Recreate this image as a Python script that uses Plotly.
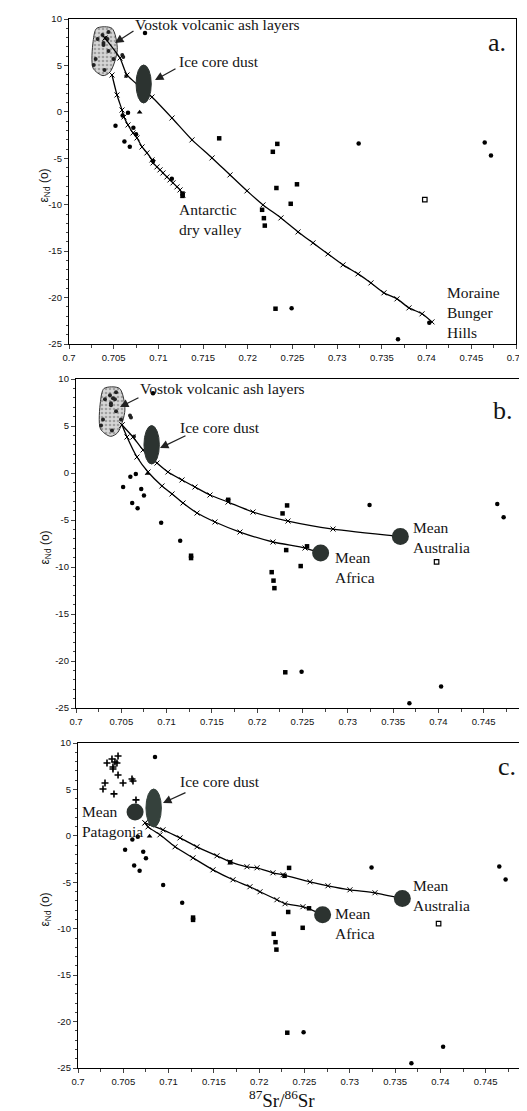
import plotly.graph_objects as go

# The page body has an 8 px margin, so the figure is drawn 8 px in from the corner.
OFF = 8
PAGE_W, PAGE_H = 527, 1111
W, H = PAGE_W - OFF, PAGE_H - OFF

# ---------------- data ----------------
tick_vals_x = [0.7, 0.705, 0.71, 0.715, 0.72, 0.725, 0.73, 0.735, 0.74, 0.745, 0.75]
tick_text_x = ["0.7", "0.705", "0.71", "0.715", "0.72", "0.725", "0.73", "0.735", "0.74", "0.745", "0.75"]
tick_vals_y = [10, 5, 0, -5, -10, -15, -20, -25]
tick_text_y = ["10", "5", "0", "-5", "-10", "-15", "-20", "-25"]

# Vostok volcanic ash samples
vostok_x = [0.7032, 0.70375, 0.70408, 0.70386, 0.70442, 0.7043, 0.70386, 0.70442,
            0.70497, 0.70596, 0.70607, 0.70298, 0.70276, 0.70397, 0.7064]
vostok_y = [7.85, 8.28, 7.96, 7.42, 8.6, 7.85, 7.2, 6.56, 5.7, 6.13, 5.91, 5.7, 5.05, 4.52, 3.87]

# potential source area samples (dots)
dot_x = [0.7085, 0.7066, 0.7060, 0.7052, 0.7072, 0.7075, 0.7062, 0.7068, 0.7094, 0.7115,
         0.7324, 0.7465, 0.7472, 0.7249, 0.7368, 0.7403]
dot_y = [8.49, -0.1, -0.4, -1.5, -1.7, -2.4, -3.2, -3.75, -5.3, -7.2,
         -3.4, -3.3, -4.7, -21.15, -24.5, -22.7]
# squares
sq_x = [0.7127, 0.7127, 0.7168, 0.7233, 0.7228, 0.7232, 0.7255, 0.7248, 0.7216, 0.7218, 0.7219, 0.7231]
sq_y = [-8.8, -9.05, -2.85, -3.45, -4.3, -8.2, -7.8, -9.9, -10.55, -11.45, -12.25, -21.2]
tri_x = [0.7079]
tri_y = [-0.05]
open_x = [0.7398]
open_y = [-9.45]

# outline of the Vostok ash field
ash_poly_x = [0.7031, 0.7048, 0.7054, 0.7046, 0.7038, 0.7027, 0.7027, 0.7031]
ash_poly_y = [9.0, 9.0, 6.7, 4.3, 3.9, 4.7, 7.6, 9.0]

# ice core dust field (ellipse bounds)
dust_x = [0.7075, 0.7092]
dust_y = [0.95, 5.05]

# panel a mixing curves
a_moraine_x = [0.70403, 0.70570, 0.70649, 0.70928, 0.71152, 0.71376, 0.71600, 0.71801, 0.71991,
               0.72170, 0.72371, 0.72562, 0.72729, 0.72897, 0.73065, 0.73233, 0.73378, 0.73523,
               0.73669, 0.73803, 0.73949, 0.74060]
a_moraine_y = [7.95, 5.80, 3.97, 1.60, -0.66, -3.02, -4.96, -6.79, -8.51, -10.02, -11.42, -12.93,
               -14.11, -15.30, -16.48, -17.45, -18.42, -19.49, -20.14, -21.11, -21.75, -22.62]
a_dry_x = [0.70481, 0.70537, 0.70593, 0.70615, 0.70660, 0.70716, 0.70761, 0.70817, 0.70872,
           0.70928, 0.70940, 0.70984, 0.71018, 0.71051, 0.71096, 0.71130, 0.71163, 0.71208,
           0.71242, 0.71275]
a_dry_y = [3.97, 1.82, 0.20, -0.55, -1.41, -2.27, -2.81, -3.78, -4.42, -5.18, -5.50, -5.93,
           -6.25, -6.58, -7.01, -7.33, -7.65, -8.08, -8.41, -8.95]

# panel b mixing curves
b_aus_x = [0.70508, 0.70629, 0.70740, 0.70894, 0.71015, 0.71170, 0.71313, 0.71479, 0.71678,
           0.71954, 0.72340, 0.72837, 0.73576]
b_aus_y = [5.11, 3.83, 2.45, 1.06, 0.11, -0.74, -1.49, -2.34, -3.09, -4.15, -5.11, -5.96, -6.75]
b_afr_x = [0.70508, 0.70563, 0.70673, 0.70795, 0.70949, 0.71060, 0.71181, 0.71336, 0.71534,
           0.71810, 0.72174, 0.72528, 0.72700]
b_afr_y = [5.11, 3.83, 1.70, 0.11, -1.38, -2.23, -3.19, -4.26, -5.21, -6.28, -7.34, -7.98, -8.5]

# panel c mixing curves
c_aus_x = [0.70740, 0.70938, 0.71126, 0.71313, 0.71534, 0.71678, 0.71865, 0.71976, 0.72152,
           0.72263, 0.72561, 0.72759, 0.73002, 0.73278, 0.73576]
c_aus_y = [1.40, 0.65, -0.22, -1.18, -2.15, -2.80, -3.33, -3.44, -3.98, -4.19, -4.95, -5.38,
           -5.81, -6.13, -6.75]
c_afr_x = [0.70740, 0.70773, 0.70905, 0.71071, 0.71269, 0.71490, 0.71711, 0.71898, 0.72009,
           0.72196, 0.72285, 0.72483, 0.72700]
c_afr_y = [1.40, 0.97, 0.11, -1.18, -2.37, -3.66, -4.73, -5.48, -6.02, -6.88, -7.31, -7.63, -8.5]

mean_names = ["Australia", "Africa", "Patagonia"]
mean_x = [0.7358, 0.7270, 0.7063]
mean_y = [-6.75, -8.5, 2.58]

# ---------------- layout helpers (page pixel -> paper fraction) ----------------
def px_x(p):
    return (p - OFF) / W

def px_y(p):
    return 1 - (p - OFF) / H

panels = {
    # name: (left px, right px, top px, bottom px, x max)   -- page pixels
    "a": (69, 516, 19, 344, 0.75),
    "b": (76, 527, 379, 708, 0.74978),
    "c": (78, 527, 743, 1068, 0.74956),
}

fig = go.Figure()
DARK = "#2c3330"
SERIF = "Liberation Serif, Times New Roman, serif"
SANS = "Liberation Sans, Arial, sans-serif"
LABEL_SIZE = 15.5

axis_ids = {"a": ("x", "y"), "b": ("x2", "y2"), "c": ("x3", "y3")}


def add_points(xr, yr, show_vostok_crosses):
    if show_vostok_crosses:
        fig.add_trace(go.Scatter(x=vostok_x, y=vostok_y, mode="markers", xaxis=xr, yaxis=yr,
                                 marker=dict(symbol="cross-thin", size=5, color="black",
                                             line=dict(width=1.6, color="black")), showlegend=False))
    fig.add_trace(go.Scatter(x=dot_x, y=dot_y, mode="markers", xaxis=xr, yaxis=yr,
                             marker=dict(symbol="circle", size=4.5, color="black"), showlegend=False))
    fig.add_trace(go.Scatter(x=sq_x, y=sq_y, mode="markers", xaxis=xr, yaxis=yr,
                             marker=dict(symbol="square", size=4.5, color="black"), showlegend=False))
    fig.add_trace(go.Scatter(x=tri_x, y=tri_y, mode="markers", xaxis=xr, yaxis=yr,
                             marker=dict(symbol="triangle-up", size=5, color="black"), showlegend=False))
    fig.add_trace(go.Scatter(x=open_x, y=open_y, mode="markers", xaxis=xr, yaxis=yr,
                             marker=dict(symbol="square-open", size=4.5, color="black",
                                         line=dict(width=1.2)), showlegend=False))


def add_ash(xr, yr):
    fig.add_trace(go.Scatter(x=ash_poly_x, y=ash_poly_y, mode="lines", fill="toself", xaxis=xr, yaxis=yr,
                             line=dict(color="#333", width=1, shape="spline", smoothing=0.8),
                             fillcolor="#cfcfcf",
                             fillpattern=dict(shape=".", bgcolor="#d6d6d6", fgcolor="#6a6a6a",
                                              size=4, solidity=0.35),
                             showlegend=False))
    fig.add_trace(go.Scatter(x=vostok_x, y=vostok_y, mode="markers", xaxis=xr, yaxis=yr,
                             marker=dict(symbol="circle", size=4, color="#222"), showlegend=False))


def add_curve(xr, yr, xs, ys):
    fig.add_trace(go.Scatter(x=xs, y=ys, mode="lines+markers", xaxis=xr, yaxis=yr,
                             line=dict(color="black", width=1.3, shape="spline", smoothing=0.6),
                             marker=dict(symbol="x-thin", size=5, color="black",
                                         line=dict(width=1, color="black")),
                             showlegend=False))


def add_means(xr, yr, idx):
    fig.add_trace(go.Scatter(x=[mean_x[i] for i in idx], y=[mean_y[i] for i in idx], mode="markers",
                             xaxis=xr, yaxis=yr, marker=dict(size=17, color=DARK), showlegend=False))


def add_dust(xr, yr, color=DARK):
    fig.add_shape(type="circle", xref=xr, yref=yr, x0=dust_x[0], x1=dust_x[1], y0=dust_y[0], y1=dust_y[1],
                  fillcolor=color, line=dict(color=color, width=1), layer="above")


# panel a
xa, ya = axis_ids["a"]
add_ash(xa, ya)
add_points(xa, ya, False)
add_curve(xa, ya, a_moraine_x, a_moraine_y)
add_curve(xa, ya, a_dry_x, a_dry_y)
add_dust(xa, ya)

# panel b
xb, yb = axis_ids["b"]
add_ash(xb, yb)
add_points(xb, yb, False)
add_curve(xb, yb, b_aus_x, b_aus_y)
add_curve(xb, yb, b_afr_x, b_afr_y)
add_means(xb, yb, [0, 1])
add_dust(xb, yb)

# panel c
xc, yc = axis_ids["c"]
add_points(xc, yc, True)
add_curve(xc, yc, c_aus_x, c_aus_y)
add_curve(xc, yc, c_afr_x, c_afr_y)
add_means(xc, yc, [0, 1])
add_dust(xc, yc, "#35413c")
add_means(xc, yc, [2])

layout = dict(width=W, height=H, margin=dict(l=0, r=0, t=0, b=0, autoexpand=False),
              paper_bgcolor="white", plot_bgcolor="white", showlegend=False,
              font=dict(family=SANS, color="black"))

for i, key in enumerate(["a", "b", "c"]):
    l, r, t, b, xmax = panels[key]
    sfx = "" if i == 0 else str(i + 1)
    layout["xaxis" + sfx] = dict(
        domain=[px_x(l), min(1.0, px_x(r))], range=[0.7, xmax], anchor="y" + sfx, automargin=False,
        tickvals=tick_vals_x, ticktext=tick_text_x, ticks="outside", ticklen=4, tickwidth=1,
        tickfont=dict(family=SANS, size=9.5, color="#111"),
        minor=dict(tickmode="linear", tick0=0.7, dtick=0.0025, ticks="outside", ticklen=3, tickwidth=1),
        showline=True, linecolor="black", linewidth=1.3, mirror=True, showgrid=False, zeroline=False)
    layout["yaxis" + sfx] = dict(
        domain=[px_y(b), px_y(t)], range=[-25, 10], anchor="x" + sfx, automargin=False,
        tickvals=tick_vals_y, ticktext=tick_text_y, ticks="outside", ticklen=4, tickwidth=1,
        tickfont=dict(family=SANS, size=9.5, color="#111"),
        minor=dict(tickmode="linear", tick0=0, dtick=1, ticks="outside", ticklen=2, tickwidth=1),
        showline=True, linecolor="black", linewidth=1.3, mirror=True, showgrid=False, zeroline=False)

fig.update_layout(**layout)

annots = []


def lab(xr, yr, x, y, text, size=LABEL_SIZE, xanchor="left", yanchor="middle", align="left"):
    annots.append(dict(xref=xr, yref=yr, x=x, y=y, text=text, showarrow=False, xanchor=xanchor,
                       yanchor=yanchor, align=align,
                       font=dict(family=SERIF, size=size, color="#141414")))


def arrow(xr, yr, hx, hy, tx, ty):
    annots.append(dict(xref=xr, yref=yr, axref=xr, ayref=yr, x=hx, y=hy, ax=tx, ay=ty, text="",
                       showarrow=True, arrowhead=2, arrowsize=1.3, arrowwidth=1.3, arrowcolor="#222"))


# panel a labels
lab(xa, ya, 0.70716, 9.46, "Vostok volcanic ash layers")
arrow(xa, ya, 0.70515, 7.42, 0.70738, 8.82)
lab(xa, ya, 0.71208, 5.37, "Ice core dust")
arrow(xa, ya, 0.70962, 3.43, 0.71208, 4.73)
lab(xa, ya, 0.7121, -11.6, "Antarctic<br>dry valley")
lab(xa, ya, 0.7421, -21.65, "Moraine<br>Bunger<br>Hills")
lab(xa, ya, 0.7491, 7.42, "a.", size=26, xanchor="right")

# panel b labels
lab(xb, yb, 0.70684, 9.04, "Vostok volcanic ash layers")
arrow(xb, yb, 0.70486, 7.02, 0.70706, 8.09)
lab(xb, yb, 0.71126, 4.89, "Ice core dust")
arrow(xb, yb, 0.70927, 2.66, 0.71225, 4.04)
lab(xb, yb, 0.73698, -6.81, "Mean<br>" + mean_names[0])
lab(xb, yb, 0.72837, -10.0, "Mean<br>" + mean_names[1])
lab(xb, yb, 0.74845, 6.70, "b.", size=26, xanchor="right")

# panel c labels
lab(xc, yc, 0.71104, 5.81, "Ice core dust")
arrow(xc, yc, 0.70938, 3.55, 0.71203, 4.73)
lab(xc, yc, 0.70022, 1.51, "Mean<br>" + mean_names[2])
lab(xc, yc, 0.73675, -6.45, "Mean<br>" + mean_names[0])
lab(xc, yc, 0.72815, -9.46, "Mean<br>" + mean_names[1])
lab(xc, yc, 0.74857, 7.42, "c.", size=26, xanchor="right")

# axis titles
for key in ["a", "b", "c"]:
    l, r, t, b, xmax = panels[key]
    annots.append(dict(xref="paper", yref="paper", x=px_x(45), y=px_y((t + b) / 2 + 4),
                       xanchor="center", yanchor="middle",
                       text="ε<sub>Nd</sub> (o)", textangle=-90, showarrow=False,
                       font=dict(family=SANS, size=12, color="#111")))
annots.append(dict(xref="paper", yref="paper", x=px_x(282), y=px_y(1099), xanchor="center",
                   yanchor="middle", text="<sup>87</sup>Sr/<sup>86</sup>Sr", showarrow=False,
                   font=dict(family=SERIF, size=19, color="#111")))

fig.update_layout(annotations=annots)
fig.write_html("out.html")
